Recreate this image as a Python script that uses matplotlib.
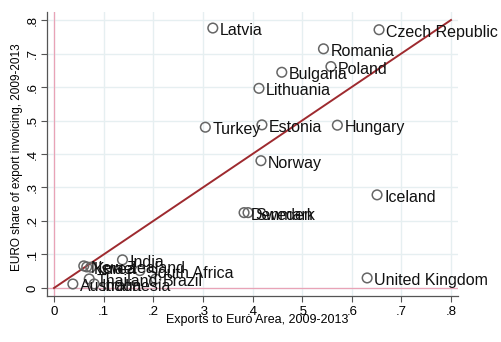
import matplotlib
matplotlib.use("Agg")
import matplotlib.pyplot as plt

plt.rcParams['font.family'] = ['Liberation Sans', 'DejaVu Sans']

countries = ['Latvia', 'Czech Republic', 'Romania', 'Poland', 'Bulgaria', 'Lithuania',
             'Turkey', 'Estonia', 'Hungary', 'Norway', 'Iceland', 'Denmark', 'Sweden',
             'United Kingdom', 'India', 'New Zealand', 'Korea', 'Israel', 'South Africa',
             'Thailand', 'Brazil', 'Indonesia', 'Australia']
exports_ea = [0.320, 0.655, 0.543, 0.558, 0.459, 0.413,
              0.305, 0.419, 0.571, 0.417, 0.651, 0.383, 0.391,
              0.631, 0.138, 0.060, 0.066, 0.074, 0.173,
              0.071, 0.205, 0.081, 0.038]
euro_share = [0.776, 0.771, 0.714, 0.661, 0.644, 0.596,
              0.480, 0.487, 0.486, 0.380, 0.278, 0.225, 0.225,
              0.030, 0.084, 0.066, 0.063, 0.062, 0.052,
              0.027, 0.027, 0.012, 0.012]

xticks = [0, 0.1, 0.2, 0.3, 0.4, 0.5, 0.6, 0.7, 0.8]
tick_labels = ['0', '.1', '.2', '.3', '.4', '.5', '.6', '.7', '.8']

fig = plt.figure(figsize=(5.01, 3.42), dpi=100)
ax = fig.add_axes([47 / 501, 46 / 342, 411 / 501, 284 / 342])
ax.set_xlim(-0.0141, 0.8141)
ax.set_ylim(-0.0239, 0.8239)

ax.set_xticks(xticks)
ax.set_xticklabels(tick_labels, fontsize=9.5)
ax.set_yticks(xticks)
ax.set_yticklabels(tick_labels, fontsize=9.5, rotation=90, va='center')
ax.grid(True, color='#e6eff1', linewidth=1.0)
ax.set_axisbelow(True)
ax.tick_params(direction='out', length=4, width=0.8, color='#555555')
ax.tick_params(axis='x', pad=3)
ax.tick_params(axis='y', pad=2)

for side in ['top', 'right']:
    ax.spines[side].set_visible(False)
for side in ['left', 'bottom']:
    ax.spines[side].set_color('#555555')
    ax.spines[side].set_linewidth(0.9)

# reference lines at zero
ax.axvline(0, color='#e9a3b6', linewidth=0.9, zorder=1)
ax.axhline(0, color='#e9a3b6', linewidth=0.9, zorder=1)

# 45 degree line
ax.plot([0, 0.8], [0, 0.8], color='#9e2a2f', linewidth=1.4, zorder=2)

ax.scatter(exports_ea, euro_share, s=48, facecolors='none', edgecolors='#666666',
           linewidths=1.1, zorder=3)
for name, x, y in zip(countries, exports_ea, euro_share):
    ax.annotate(name, (x, y), xytext=(5, -1.8), textcoords='offset points',
                va='center', ha='left', fontsize=11.5, color='#111111', zorder=4)

fig.text(257 / 501, 1 - 320 / 342, 'Exports to Euro Area, 2009-2013',
         ha='center', va='center', fontsize=9)
fig.text(17 / 501, 1 - 157 / 342, 'EURO share of export invoicing, 2009-2013',
         ha='center', va='center', rotation=90, fontsize=8.5)

fig.savefig('out.png', dpi=100)
